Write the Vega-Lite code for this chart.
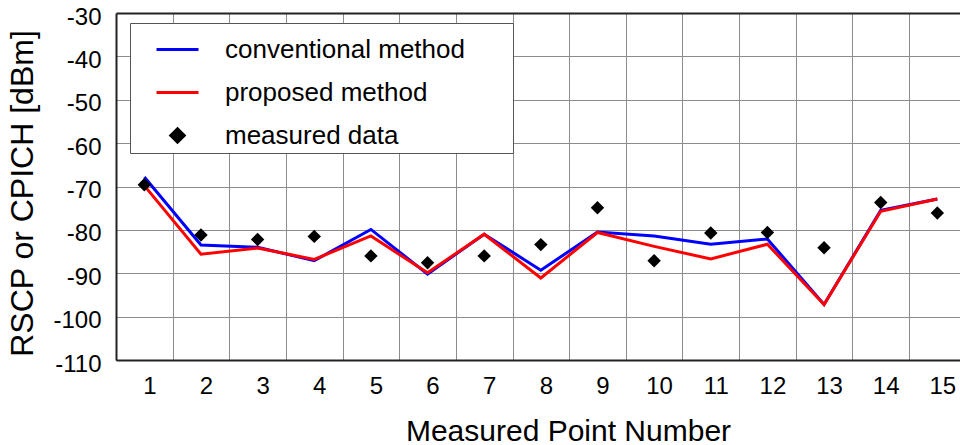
{
  "$schema": "https://vega.github.io/schema/vega-lite/v6.json",
  "width": 844,
  "height": 347,
  "autosize": {"type": "none"},
  "padding": {"left": 116, "top": 13, "right": 0, "bottom": 85},
  "background": "white",
  "config": {"view": {"stroke": null}, "font": "Liberation Sans"},
  "data": {
    "values": [
      {"point": 1, "series": "conventional method", "value": -67.8},
      {"point": 2, "series": "conventional method", "value": -83.5},
      {"point": 3, "series": "conventional method", "value": -84.0},
      {"point": 4, "series": "conventional method", "value": -87.1},
      {"point": 5, "series": "conventional method", "value": -79.9},
      {"point": 6, "series": "conventional method", "value": -90.2},
      {"point": 7, "series": "conventional method", "value": -81.0},
      {"point": 8, "series": "conventional method", "value": -89.3},
      {"point": 9, "series": "conventional method", "value": -80.5},
      {"point": 10, "series": "conventional method", "value": -81.4},
      {"point": 11, "series": "conventional method", "value": -83.3},
      {"point": 12, "series": "conventional method", "value": -82.1},
      {"point": 13, "series": "conventional method", "value": -97.2},
      {"point": 14, "series": "conventional method", "value": -75.5},
      {"point": 15, "series": "conventional method", "value": -72.9},
      {"point": 1, "series": "proposed method", "value": -69.8},
      {"point": 2, "series": "proposed method", "value": -85.6},
      {"point": 3, "series": "proposed method", "value": -84.2},
      {"point": 4, "series": "proposed method", "value": -86.8},
      {"point": 5, "series": "proposed method", "value": -81.4},
      {"point": 6, "series": "proposed method", "value": -89.9},
      {"point": 7, "series": "proposed method", "value": -81.0},
      {"point": 8, "series": "proposed method", "value": -91.1},
      {"point": 9, "series": "proposed method", "value": -80.6},
      {"point": 10, "series": "proposed method", "value": -83.8},
      {"point": 11, "series": "proposed method", "value": -86.7},
      {"point": 12, "series": "proposed method", "value": -83.3},
      {"point": 13, "series": "proposed method", "value": -97.2},
      {"point": 14, "series": "proposed method", "value": -75.7},
      {"point": 15, "series": "proposed method", "value": -72.9},
      {"point": 1, "series": "measured data", "value": -69.6},
      {"point": 2, "series": "measured data", "value": -81.2},
      {"point": 3, "series": "measured data", "value": -82.2},
      {"point": 4, "series": "measured data", "value": -81.5},
      {"point": 5, "series": "measured data", "value": -86.0},
      {"point": 6, "series": "measured data", "value": -87.6},
      {"point": 7, "series": "measured data", "value": -86.0},
      {"point": 8, "series": "measured data", "value": -83.4},
      {"point": 9, "series": "measured data", "value": -74.9},
      {"point": 10, "series": "measured data", "value": -87.1},
      {"point": 11, "series": "measured data", "value": -80.7},
      {"point": 12, "series": "measured data", "value": -80.6},
      {"point": 13, "series": "measured data", "value": -84.1},
      {"point": 14, "series": "measured data", "value": -73.7},
      {"point": 15, "series": "measured data", "value": -76.1}
    ]
  },
  "layer": [
    {
      "transform": [{"filter": "datum.series !== 'measured data'"}],
      "mark": {"type": "line", "strokeWidth": 3, "clip": true},
      "encoding": {
        "x": {
          "field": "point",
          "type": "quantitative",
          "scale": {"domain": [0.5, 15.4], "nice": false, "zero": false},
          "axis": {
            "title": "Measured Point Number",
            "values": [1, 1.5, 2, 2.5, 3, 3.5, 4, 4.5, 5, 5.5, 6, 6.5, 7, 7.5, 8, 8.5, 9, 9.5, 10, 10.5, 11, 11.5, 12, 12.5, 13, 13.5, 14, 14.5, 15],
            "tickCount": 100,
            "labelExpr": "datum.value % 1 === 0 ? '' + datum.value : ''",
            "grid": true,
            "gridColor": {"condition": {"test": "datum.value % 1 === 0", "value": "transparent"}, "value": "#8c8c8c"},
            "gridWidth": 1,
            "ticks": false,
            "tickSize": 0,
            "domain": true,
            "domainColor": "#222222",
            "domainWidth": 2,
            "labelFont": "Liberation Sans",
            "labelFontSize": 24,
            "labelColor": "black",
            "labelBaseline": "alphabetic",
            "labelPadding": 33,
            "labelOffset": 5,
            "labelOverlap": false,
            "labelFlush": false,
            "titleFont": "Liberation Sans",
            "titleFontSize": 30,
            "titleFontWeight": "normal",
            "titleColor": "black",
            "titleX": 452,
            "titleY": 80,
            "titleBaseline": "alphabetic",
            "titleAlign": "center"
          }
        },
        "y": {
          "field": "value",
          "type": "quantitative",
          "scale": {"domain": [-110, -30], "nice": false, "zero": false},
          "axis": {
            "title": "RSCP or CPICH [dBm]",
            "values": [-110, -100, -90, -80, -70, -60, -50, -40, -30],
            "tickCount": 100,
            "labelExpr": "'' + datum.value",
            "grid": true,
            "gridColor": {"condition": {"test": "datum.value === -30", "value": "#222222"}, "value": "#8c8c8c"},
            "gridWidth": {"condition": {"test": "datum.value === -30", "value": 2}, "value": 1},
            "ticks": false,
            "tickSize": 0,
            "domainColor": "#222222",
            "domainWidth": 2,
            "labelFont": "Liberation Sans",
            "labelFontSize": 24,
            "labelColor": "black",
            "labelPadding": 15,
            "labelBaseline": "middle",
            "labelOffset": 4,
            "labelFlush": false,
            "labelOverlap": false,
            "titleFont": "Liberation Sans",
            "titleFontSize": 32,
            "titleFontWeight": "normal",
            "titleColor": "black",
            "titleX": -84,
            "titleY": 180,
            "titleAngle": 270,
            "titleBaseline": "alphabetic",
            "titleAlign": "center"
          }
        },
        "color": {
          "field": "series",
          "type": "nominal",
          "title": null,
          "scale": {
            "domain": ["conventional method", "proposed method", "measured data"],
            "range": ["#0000ff", "#ff0000", "#000000"]
          },
          "legend": {
            "title": null,
            "orient": "none",
            "legendX": 14,
            "legendY": 10,
            "fillColor": "white",
            "strokeColor": "#555555",
            "padding": 4,
            "symbolOffset": 21,
            "symbolSize": 1764,
            "symbolStrokeWidth": 3,
            "symbolFillColor": "#000000",
            "labelFont": "Liberation Sans",
            "labelFontSize": 26,
            "labelColor": "black",
            "labelOffset": 25,
            "labelLimit": 0,
            "rowPadding": 7,
            "labelExpr": "datum.label + '\u00a0\u00a0\u00a0\u00a0\u00a0\u00a0\u200b'"
          }
        }
      }
    },
    {
      "transform": [{"filter": "datum.series === 'measured data'"}],
      "mark": {"type": "point", "filled": true, "size": 1764, "opacity": 1, "strokeWidth": 0},
      "encoding": {
        "x": {"field": "point", "type": "quantitative"},
        "y": {"field": "value", "type": "quantitative"},
        "color": {"field": "series", "type": "nominal", "title": null},
        "shape": {
          "field": "series",
          "type": "nominal",
          "title": null,
          "scale": {
            "domain": ["conventional method", "proposed method", "measured data"],
            "range": ["M-1,0H1", "M-1,0H1", "M0,-0.32L0.32,0L0,0.32L-0.32,0Z"]
          },
          "legend": {
            "title": null,
            "orient": "none",
            "legendX": 14,
            "legendY": 10,
            "labelExpr": "datum.label + '\u00a0\u00a0\u00a0\u00a0\u00a0\u00a0\u200b'"
          }
        }
      }
    }
  ]
}
